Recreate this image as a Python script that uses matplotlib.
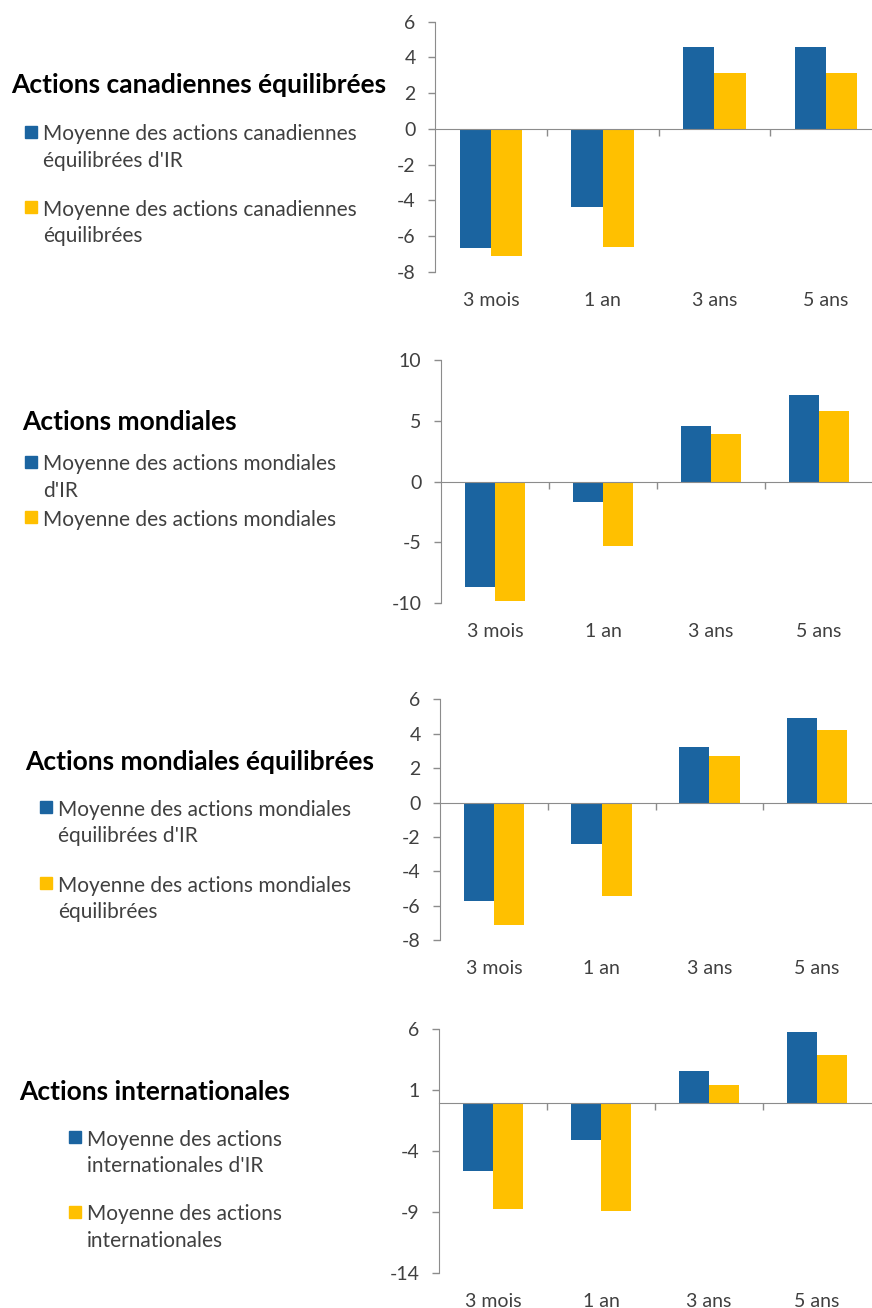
import matplotlib
matplotlib.use("Agg")
import matplotlib.pyplot as plt
from matplotlib.patches import Rectangle
import matplotlib.transforms as mtransforms

plt.rcParams['font.family'] = ['Lato', 'DejaVu Sans']
plt.rcParams['axes.unicode_minus'] = False

W, H = 872, 1308
BLUE = '#1B64A0'
GOLD = '#FFC000'
TXT = '#404040'
AXC = '#8C8C8C'

periods = ['3 mois', '1 an', '3 ans', '5 ans']

# Actions canadiennes équilibrées
can_bal_ir = [-6.7, -4.4, 4.6, 4.6]
can_bal_avg = [-7.1, -6.6, 3.1, 3.1]
# Actions mondiales
glob_ir = [-8.7, -1.7, 4.6, 7.1]
glob_avg = [-9.8, -5.3, 3.9, 5.8]
# Actions mondiales équilibrées
glob_bal_ir = [-5.7, -2.4, 3.2, 4.9]
glob_bal_avg = [-7.1, -5.4, 2.7, 4.2]
# Actions internationales
intl_ir = [-5.6, -3.1, 2.6, 5.8]
intl_avg = [-8.7, -8.9, 1.4, 3.9]

titles = ['Actions canadiennes équilibrées', 'Actions mondiales',
          'Actions mondiales équilibrées', 'Actions internationales']
labels_ir = ['Moyenne des actions canadiennes\néquilibrées d\'IR',
             'Moyenne des actions mondiales\nd\'IR',
             'Moyenne des actions mondiales\néquilibrées d\'IR',
             'Moyenne des actions\ninternationales d\'IR']
labels_avg = ['Moyenne des actions canadiennes\néquilibrées',
              'Moyenne des actions mondiales',
              'Moyenne des actions mondiales\néquilibrées',
              'Moyenne des actions\ninternationales']
yticks = [[6, 4, 2, 0, -2, -4, -6, -8],
          [10, 5, 0, -5, -10],
          [6, 4, 2, 0, -2, -4, -6, -8],
          [6, 1, -4, -9, -14]]
series = [(can_bal_ir, can_bal_avg), (glob_ir, glob_avg),
          (glob_bal_ir, glob_bal_avg), (intl_ir, intl_avg)]

# layout in pixels: axes (left, right, top, bottom), title (x, y), legend
ax_px = [(435, 882, 21.7, 271.7), (441, 873, 360, 603.3),
         (440, 871, 699.3, 940.3), (439, 871, 1029.3, 1273.3)]
title_px = [(11, 85), (22, 422), (25, 762), (19, 1092)]
leg_sq_x = [25, 25, 40, 69]
leg_y = [(132, 207), (462, 517), (807, 883), (1137, 1212)]

fig = plt.figure(figsize=(W / 100, H / 100), dpi=100)


def fx(x):
    return x / W


def fy(y):
    return 1 - y / H


for k in range(4):
    l, r, t, b = ax_px[k]
    ax = fig.add_axes([fx(l), fy(b), (r - l) / W, (b - t) / H])
    ir, avg = series[k]
    xs = range(len(periods))
    ax.bar([x - 0.14 for x in xs], ir, width=0.28, color=BLUE, zorder=2)
    ax.bar([x + 0.14 for x in xs], avg, width=0.28, color=GOLD, zorder=2)
    ax.set_xlim(-0.5, 3.5)
    ax.set_ylim(min(yticks[k]), max(yticks[k]))
    ax.set_yticks(yticks[k])
    ax.tick_params(axis='y', colors=AXC, labelcolor=TXT, labelsize=14,
                   length=5, width=1, pad=9)
    for s in ['top', 'right']:
        ax.spines[s].set_visible(False)
    ax.spines['left'].set_color(AXC)
    ax.spines['bottom'].set_color(AXC)
    ax.spines['bottom'].set_position(('data', 0))
    ax.spines['bottom'].set_zorder(3)
    ax.set_xticks([0.5, 1.5, 2.5])
    ax.set_xticklabels([])
    ax.tick_params(axis='x', colors=AXC, length=5, width=1, direction='out')
    trans = mtransforms.blended_transform_factory(ax.transData, ax.transAxes)
    lab_off = 28.5 / (b - t)
    for i, p in enumerate(periods):
        ax.text(i, -lab_off, p, transform=trans, ha='center', va='center',
                fontsize=14, color=TXT)

    tx, ty = title_px[k]
    fig.text(fx(tx), fy(ty), titles[k], ha='left', va='center',
             fontsize=19, fontweight='bold', color='black')
    sx = leg_sq_x[k]
    for y0, lab, c in zip(leg_y[k], [labels_ir[k], labels_avg[k]], [BLUE, GOLD]):
        fig.add_artist(Rectangle((fx(sx), fy(y0 + 6)), 12 / W, 12 / H,
                                 transform=fig.transFigure, color=c))
        fig.text(fx(sx + 18), fy(y0 - 7.5), lab, ha='left', va='top',
                 fontsize=15, color=TXT, linespacing=1.38)

fig.savefig('out.png', dpi=100)
